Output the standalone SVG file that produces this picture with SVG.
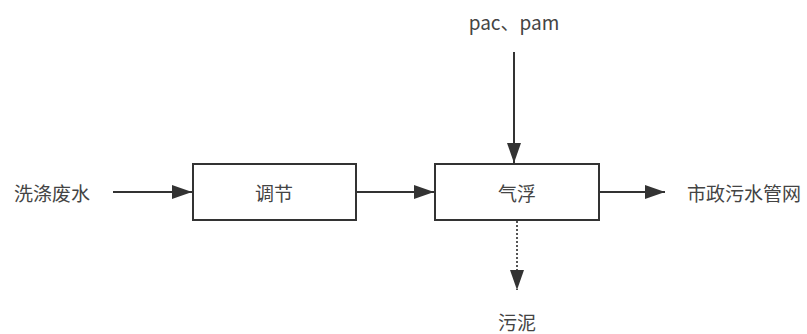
<svg xmlns="http://www.w3.org/2000/svg" width="807" height="334" viewBox="0 0 807 334">
<style>
.box{fill:#fff;stroke:#333;stroke-width:2}
.t{font-family:"Noto Sans CJK SC","Liberation Sans",sans-serif;font-size:19px;fill:#444;text-anchor:middle;dominant-baseline:central}
.c{stroke:#333;stroke-width:2;fill:none}
.d{stroke:#555;stroke-width:2;fill:none;stroke-dasharray:2 2}
</style>
<defs>
<marker id="ah" viewBox="0 0 20 14" refX="20" refY="7" markerWidth="20" markerHeight="14" markerUnits="userSpaceOnUse" orient="auto">
<path d="M0,0 L20,7 L0,14 Z" fill="#333"/>
</marker>
</defs>
<g id="connectors">
<line class="c" x1="113" y1="192" x2="192" y2="192" marker-end="url(#ah)"/>
<line class="c" x1="356" y1="192" x2="434" y2="192" marker-end="url(#ah)"/>
<line class="c" x1="514" y1="52" x2="514" y2="163" marker-end="url(#ah)"/>
<line class="c" x1="599" y1="192" x2="665" y2="192" marker-end="url(#ah)"/>
<line class="d" x1="517" y1="221" x2="517" y2="290" marker-end="url(#ah)"/>
</g>
<g id="n-input"><text class="t" x="52" y="192">洗涤废水</text></g>
<g id="n-tiaojie"><rect class="box" x="193" y="164" width="163" height="56"/><text class="t" x="274" y="192">调节</text></g>
<g id="n-qifu"><rect class="box" x="435" y="164" width="164" height="56"/><text class="t" x="517" y="192">气浮</text></g>
<g id="n-pac"><text class="t" x="514" y="21">pac、pam</text></g>
<g id="n-out"><text class="t" x="744" y="192">市政污水管网</text></g>
<g id="n-sludge"><text class="t" x="517" y="321">污泥</text></g>
</svg>
